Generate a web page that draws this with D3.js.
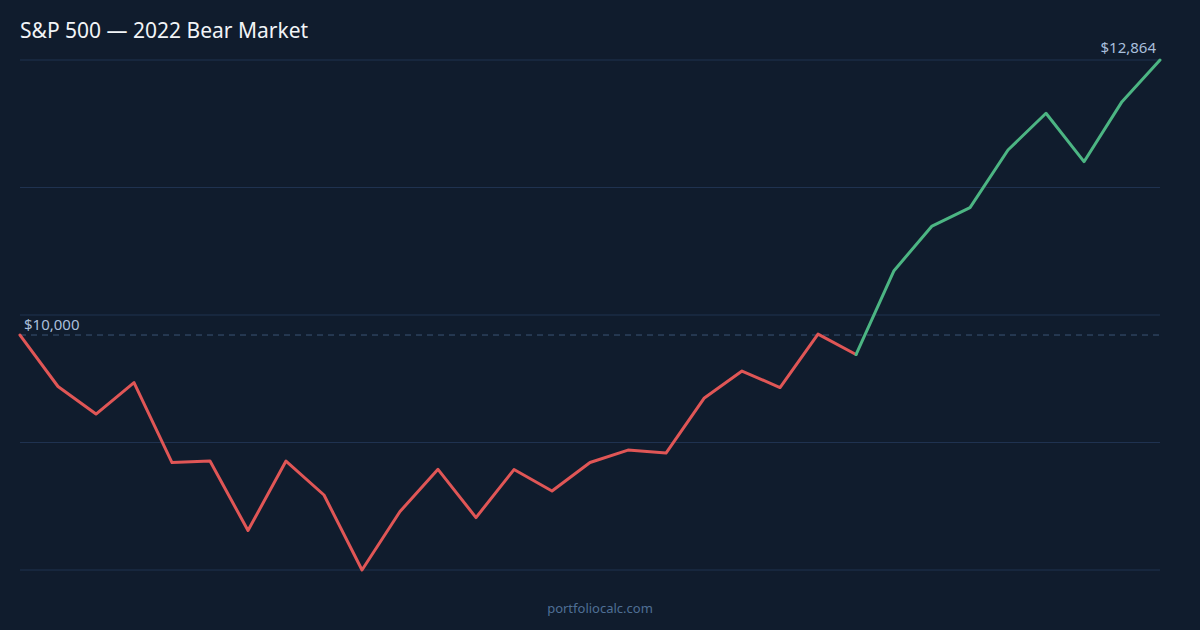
<!DOCTYPE html>
<html>
<head>
<meta charset="utf-8">
<script src="https://cdn.jsdelivr.net/npm/d3@7/dist/d3.min.js"></script>
<style>
  html, body { margin: 0; padding: 0; background: #101c2d; }
  svg { display: block; }
</style>
</head>
<body>
<svg id="chart" width="1200" height="630"></svg>
<script>
// ---- data ----
const title = "S&P 500 — 2022 Bear Market";
const footer = "portfoliocalc.com";
const values = [10000, 9464, 9177, 9505, 8672, 8688, 7964, 8688, 8334, 7553,
                8162, 8601, 8099, 8599, 8375, 8672, 8802, 8771, 9341, 9625,
                9453, 10010, 9797, 10670, 11135, 11326, 11927, 12309, 11805, 12430,
                12864];
const steps = values.map((d, i) => i);
const recoveryStart = 22;          // index where the green (recovery) segment begins
const baseline = 10000;
const gridCount = 4;               // intervals between horizontal gridlines

// ---- layout ----
const W = 1200, H = 630;
const mLeft = 20, mRight = 1160, mTop = 60, mBottom = 570;
const svg = d3.select("#chart");
svg.append("rect").attr("width", W).attr("height", H).attr("fill", "#101c2d");

const x = d3.scaleLinear().domain([0, values.length - 1]).range([mLeft, mRight]);
const y = d3.scaleLinear().domain([d3.min(values), d3.max(values)]).range([mBottom, mTop]);

// gridlines
const [lo, hi] = y.domain();
const gridVals = d3.range(gridCount + 1).map(i => lo + (hi - lo) * i / gridCount);
svg.append("g").selectAll("line").data(gridVals).join("line")
  .attr("x1", mLeft).attr("x2", mRight)
  .attr("y1", d => y(d)).attr("y2", d => y(d))
  .attr("stroke", "#1f3250").attr("stroke-width", 1);

// baseline dashed
svg.append("line")
  .attr("x1", mLeft).attr("x2", mRight)
  .attr("y1", y(baseline)).attr("y2", y(baseline))
  .attr("stroke", "#3b5375").attr("stroke-width", 1)
  .attr("stroke-dasharray", "6,5");
svg.append("text")
  .attr("x", mLeft + 4).attr("y", y(baseline) - 5)
  .attr("fill", "#a9bfdc").attr("font-family", "Noto Sans, sans-serif").attr("font-size", 15)
  .text("$" + d3.format(",")(baseline));

// line segments
const line = d3.line().x(d => x(d.i)).y(d => y(d.v));
const pts = values.map((v, i) => ({ i: steps[i], v }));
svg.append("path")
  .datum(pts.slice(0, recoveryStart + 1))
  .attr("d", line).attr("fill", "none")
  .attr("stroke", "#e05656").attr("stroke-width", 3)
  .attr("stroke-linejoin", "round").attr("stroke-linecap", "round");
svg.append("path")
  .datum(pts.slice(recoveryStart))
  .attr("d", line).attr("fill", "none")
  .attr("stroke", "#4cb583").attr("stroke-width", 3)
  .attr("stroke-linejoin", "round").attr("stroke-linecap", "round");

// end label
const last = values[values.length - 1];
svg.append("text")
  .attr("x", x(values.length - 1) - 4).attr("y", y(last) - 7)
  .attr("text-anchor", "end")
  .attr("fill", "#a9bfdc").attr("font-family", "Noto Sans, sans-serif").attr("font-size", 15)
  .text("$" + d3.format(",")(last));

// title
svg.append("text")
  .attr("x", 20).attr("y", 38)
  .attr("fill", "#f2f4f7").attr("font-family", "Noto Sans, sans-serif").attr("font-size", 21)
  .text(title);

// footer
svg.append("text")
  .attr("x", W / 2).attr("y", 613)
  .attr("text-anchor", "middle")
  .attr("fill", "#4f6f95").attr("font-family", "Noto Sans, sans-serif").attr("font-size", 13)
  .text(footer);
</script>
</body>
</html>
